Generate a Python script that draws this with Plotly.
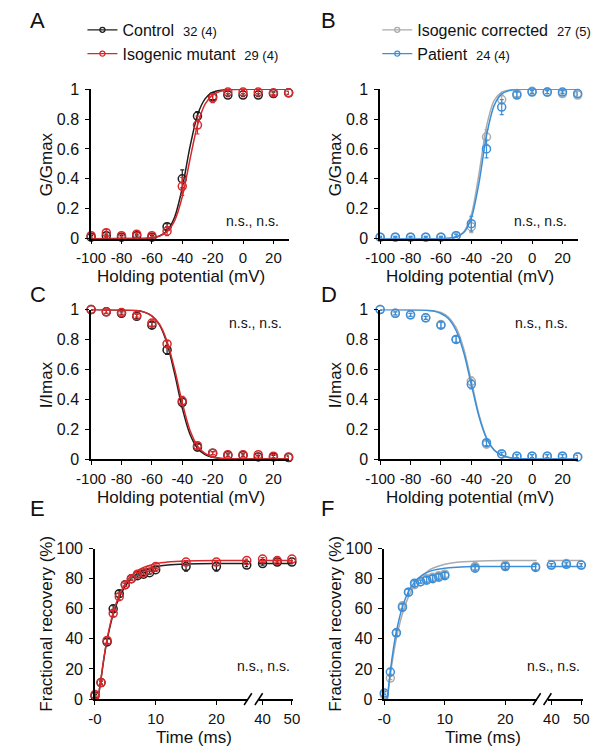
import plotly.graph_objects as go
import numpy as np

W, H = 602, 756
FONT = "Liberation Sans, Arial, Helvetica, sans-serif"

# ---------------- data ----------------
V = [-100, -90, -80, -70, -60, -50, -40, -30, -20, -10, 0, 10, 20, 30]
V_fit = [-100, -70, -65, -60, -55, -50, -45, -40, -35, -30, -25, -20, -15, -10, -5, 0, 30]
V_ticks = [-100, -80, -60, -40, -20, 0, 20]
V_ticklabels = ["-100", "-80", "-60", "-40", "-20", "0", "20"]

# Panel A: activation (G/Gmax)
A_ctrl = [0.01, 0.02, 0.01, 0.02, 0.01, 0.08, 0.40, 0.82, 0.95, 0.96, 0.96, 0.96, 0.97, 0.975]
A_ctrl_err = [0.01, 0.01, 0.01, 0.01, 0.01, 0.02, 0.06, 0.03, 0.02, 0.01, 0.01, 0.01, 0.01, 0.01]
A_mut = [0.02, 0.04, 0.02, 0.03, 0.02, 0.05, 0.35, 0.76, 0.94, 0.98, 0.98, 0.98, 0.975, 0.975]
A_mut_err = [0.01, 0.02, 0.01, 0.01, 0.01, 0.03, 0.06, 0.06, 0.03, 0.01, 0.01, 0.01, 0.01, 0.01]
A_ctrl_fit = [0, 0.0007, 0.002, 0.006, 0.018, 0.053, 0.145, 0.34, 0.61, 0.826, 0.935, 0.978, 0.993, 0.998, 0.999, 1, 1]
A_mut_fit = [0, 0.0008, 0.002, 0.006, 0.017, 0.047, 0.121, 0.28, 0.526, 0.759, 0.90, 0.962, 0.986, 0.995, 0.998, 1, 1]

# Panel B: activation (G/Gmax)
B_corr = [0.01, 0.01, 0.01, 0.01, 0.01, 0.02, 0.08, 0.68, 0.93, 0.97, 0.985, 0.98, 0.97, 0.96]
B_corr_err = [0.005, 0.005, 0.005, 0.005, 0.005, 0.01, 0.04, 0.05, 0.03, 0.02, 0.01, 0.01, 0.01, 0.01]
B_pat = [0.01, 0.01, 0.01, 0.01, 0.01, 0.02, 0.10, 0.60, 0.88, 0.96, 0.98, 0.98, 0.98, 0.97]
B_pat_err = [0.005, 0.005, 0.005, 0.005, 0.005, 0.01, 0.05, 0.06, 0.05, 0.02, 0.01, 0.01, 0.01, 0.01]
B_corr_fit = [0, 0, 0.0003, 0.0007, 0.003, 0.012, 0.045, 0.16, 0.43, 0.75, 0.924, 0.98, 0.995, 0.999, 1, 1, 1]
B_pat_fit = [0, 0, 0.0003, 0.0008, 0.003, 0.011, 0.041, 0.137, 0.37, 0.69, 0.89, 0.968, 0.991, 0.998, 0.999, 1, 1]

# Panel C: inactivation (I/Imax)
C_ctrl = [1.0, 0.985, 0.975, 0.955, 0.895, 0.73, 0.38, 0.08, 0.04, 0.025, 0.025, 0.015, 0.015, 0.01]
C_ctrl_err = [0.005, 0.01, 0.01, 0.015, 0.02, 0.03, 0.03, 0.02, 0.01, 0.01, 0.01, 0.01, 0.01, 0.01]
C_mut = [1.0, 0.985, 0.98, 0.96, 0.91, 0.77, 0.39, 0.09, 0.04, 0.03, 0.03, 0.03, 0.02, 0.015]
C_mut_err = [0.005, 0.01, 0.01, 0.01, 0.02, 0.02, 0.03, 0.02, 0.01, 0.01, 0.01, 0.01, 0.01, 0.01]
C_ctrl_fit = [1.0, 0.993, 0.983, 0.957, 0.898, 0.773, 0.570, 0.341, 0.168, 0.073, 0.030, 0.012, 0.005, 0.002, 0.001, 0, 0]
C_mut_fit = [1.0, 0.993, 0.983, 0.958, 0.902, 0.787, 0.599, 0.376, 0.195, 0.089, 0.038, 0.016, 0.006, 0.0025, 0.001, 0, 0]

# Panel D: inactivation (I/Imax)
D_corr = [1.0, 0.975, 0.965, 0.945, 0.90, 0.80, 0.52, 0.10, 0.035, 0.02, 0.02, 0.02, 0.02, 0.015]
D_corr_err = [0.005, 0.01, 0.01, 0.01, 0.02, 0.02, 0.03, 0.02, 0.01, 0.01, 0.01, 0.01, 0.01, 0.01]
D_pat = [1.0, 0.975, 0.965, 0.945, 0.895, 0.80, 0.50, 0.11, 0.035, 0.02, 0.02, 0.02, 0.02, 0.015]
D_pat_err = [0.005, 0.01, 0.01, 0.01, 0.02, 0.02, 0.03, 0.02, 0.01, 0.01, 0.01, 0.01, 0.01, 0.01]
D_corr_fit = [1.0, 0.997, 0.992, 0.980, 0.949, 0.879, 0.739, 0.523, 0.30, 0.143, 0.061, 0.025, 0.0097, 0.004, 0.0015, 0.0006, 0]
D_pat_fit = [1.0, 0.996, 0.990, 0.974, 0.939, 0.860, 0.713, 0.5, 0.287, 0.140, 0.061, 0.026, 0.011, 0.004, 0.0017, 0.0007, 0]

# Panels E/F: recovery from inactivation (%)
T = [0, 1, 2, 3, 4, 5, 6, 7, 8, 9, 10, 15, 20, 25, 40, 45, 50]
T_fit = [0.5, 1, 1.5, 2, 3, 4, 5, 6, 7, 8, 10, 12, 15, 20, 25.2]
T_fit_right = [38.7, 50.3]

E_ctrl = [2, 11, 38, 60, 70, 76, 80, 82, 83, 84, 86, 88, 88, 89, 90, 91, 91]
E_ctrl_err = [1, 1, 2, 2, 2, 1, 1, 1, 1, 1, 1, 3, 3, 1, 1, 1, 1]
E_mut = [3, 11, 39, 57, 68, 76, 80, 83, 84, 86, 88, 91, 91, 92, 93, 92, 93]
E_mut_err = [1, 1, 2, 2, 2, 1, 1, 1, 1, 1, 1, 1, 1, 1, 1, 1, 1]
E_ctrl_fit = [0, 13.5, 27.6, 39.2, 56.3, 67.5, 75, 80.1, 83.4, 85.6, 88, 89.1, 89.7, 90, 90]
E_ctrl_fit_right = [90, 90]
E_mut_fit = [0, 13.8, 28.2, 40, 57.5, 69, 76.7, 81.9, 85.3, 87.5, 90, 91.1, 91.7, 92, 92]
E_mut_fit_right = [92, 92]

F_corr = [3, 14, 44, 62, 71, 76, 78, 80, 81, 82, 83, 88, 89, 88, 89, 90, 89]
F_corr_err = [1, 1, 2, 2, 2, 2, 1, 2, 2, 2, 2, 2, 2, 2, 1, 1, 1]
F_pat = [4, 18, 44, 61, 71, 77, 78, 79, 80, 81, 82, 87, 88, 87.5, 89, 89.5, 89]
F_pat_err = [1, 2, 2, 2, 2, 2, 1, 2, 2, 2, 2, 2, 2, 2, 1, 1, 1]
F_corr_fit = [0, 16.1, 29.3, 40.3, 56.9, 68.1, 75.7, 80.9, 84.4, 86.9, 89.6, 90.9, 91.6, 92, 92]
F_corr_fit_right = [92, 92]
F_pat_fit = [0, 18.6, 33.4, 44.9, 61.3, 71.4, 77.7, 81.6, 84, 85.5, 87, 87.6, 88, 88, 88]
F_pat_fit_right = [88, 88]

legend_A = [("Control", "32 (4)"), ("Isogenic mutant", "29 (4)")]
legend_B = [("Isogenic corrected", "27 (5)"), ("Patient", "24 (4)")]

BLACK = "#1e1e1e"
RED = "#d8282c"
GRAY = "#ababab"
BLUE = "#3a8fdb"

# ---------------- helpers ----------------
def px(x):
    return x / W

def py(y):
    return 1 - y / H

fig = go.Figure()

def points(x, y, err, color, xa, ya):
    fig.add_trace(go.Scatter(
        x=x, y=y, mode="markers", xaxis=xa, yaxis=ya, showlegend=False,
        cliponaxis=False,
        marker=dict(symbol="circle-open", size=8, color=color, line=dict(width=1.5)),
        error_y=dict(type="data", array=err, color=color, thickness=1.2, width=2),
    ))

def fitline(x, y, color, xa, ya, width=1.5):
    fig.add_trace(go.Scatter(
        x=x, y=y, mode="lines", xaxis=xa, yaxis=ya, showlegend=False,
        cliponaxis=False, line=dict(color=color, width=width, shape="spline", smoothing=0.8),
    ))

def legend_entry(label, count, color, legend):
    fig.add_trace(go.Scatter(
        x=[None], y=[None], mode="lines+markers", legend=legend,
        name=f"{label}&nbsp;&nbsp;<span style='font-size:13px'>{count}</span>",
        line=dict(color=color, width=1.2),
        marker=dict(symbol="circle-open", size=5, color=color, line=dict(width=1.3)),
    ))

def split(t, v):
    t = np.array(t); v = np.array(v)
    l = t <= 30
    return (t[l].tolist(), v[l].tolist(), t[~l].tolist(), v[~l].tolist())

# ---------------- traces ----------------
fitline(V_fit, A_ctrl_fit, BLACK, "x", "y")
points(V, A_ctrl, A_ctrl_err, BLACK, "x", "y")
fitline(V_fit, A_mut_fit, RED, "x", "y")
points(V, A_mut, A_mut_err, RED, "x", "y")

fitline(V_fit, B_corr_fit, GRAY, "x2", "y2")
points(V, B_corr, B_corr_err, GRAY, "x2", "y2")
fitline(V_fit, B_pat_fit, BLUE, "x2", "y2")
points(V, B_pat, B_pat_err, BLUE, "x2", "y2")

fitline(V_fit, C_ctrl_fit, BLACK, "x3", "y3")
points(V, C_ctrl, C_ctrl_err, BLACK, "x3", "y3")
fitline(V_fit, C_mut_fit, RED, "x3", "y3")
points(V, C_mut, C_mut_err, RED, "x3", "y3")

fitline(V_fit, D_corr_fit, GRAY, "x4", "y4")
points(V, D_corr, D_corr_err, GRAY, "x4", "y4")
fitline(V_fit, D_pat_fit, BLUE, "x4", "y4")
points(V, D_pat, D_pat_err, BLUE, "x4", "y4")

for vals, errs, fit, fitr, col in [(E_ctrl, E_ctrl_err, E_ctrl_fit, E_ctrl_fit_right, BLACK),
                                   (E_mut, E_mut_err, E_mut_fit, E_mut_fit_right, RED)]:
    tl, vl, tr, vr = split(T, vals)
    _, el, _, er = split(T, errs)
    fitline(T_fit, fit, col, "x5", "y5")
    fitline(T_fit_right, fitr, col, "x6", "y5")
    points(tl, vl, el, col, "x5", "y5")
    points(tr, vr, er, col, "x6", "y5")

for vals, errs, fit, fitr, col in [(F_corr, F_corr_err, F_corr_fit, F_corr_fit_right, GRAY),
                                   (F_pat, F_pat_err, F_pat_fit, F_pat_fit_right, BLUE)]:
    tl, vl, tr, vr = split(T, vals)
    _, el, _, er = split(T, errs)
    fitline(T_fit, fit, col, "x7", "y6")
    fitline(T_fit_right, fitr, col, "x8", "y6")
    points(tl, vl, el, col, "x7", "y6")
    points(tr, vr, er, col, "x8", "y6")

legend_entry(*legend_A[0], BLACK, "legend")
legend_entry(*legend_A[1], RED, "legend")
legend_entry(*legend_B[0], GRAY, "legend2")
legend_entry(*legend_B[1], BLUE, "legend2")

# ---------------- axes ----------------
def axis(domain, rng, anchor, **kw):
    d = dict(domain=domain, range=rng, anchor=anchor, showline=True, linecolor="black",
             linewidth=1.6, ticks="outside", ticklen=4, tickwidth=1.2, tickcolor="black",
             showgrid=False, zeroline=False, tickangle=0, ticklabelstandoff=1,
             tickfont=dict(size=15, color="#111", family=FONT), fixedrange=True)
    d.update(kw)
    return d

vx = dict(tickvals=V_ticks, ticktext=V_ticklabels)
gy = dict(tickvals=[0, 0.2, 0.4, 0.6, 0.8, 1], ticktext=["0", "0.2", "0.4", "0.6", "0.8", "1"],
          tickfont=dict(size=16, color="#111", family=FONT), ticklabelstandoff=3)
ey = dict(tickvals=[0, 20, 40, 60, 80, 100],
          tickfont=dict(size=16, color="#111", family=FONT), ticklabelstandoff=3)

yA = [py(236), py(83)]
yC = [py(461.5), py(308.5)]
yE = [py(707), py(553)]

layout = dict(
    xaxis=axis([px(79), px(284)], [-100, 30], "y", **vx),
    yaxis=axis(yA, [0, 1], "x", **gy),
    xaxis2=axis([px(379), px(584)], [-100, 30], "y2", **vx),
    yaxis2=axis(yA, [0, 1], "x2", **gy),
    xaxis3=axis([px(79), px(284)], [-100, 30], "y3", **vx),
    yaxis3=axis(yC, [0, 1], "x3", **gy),
    xaxis4=axis([px(379), px(584)], [-100, 30], "y4", **vx),
    yaxis4=axis(yC, [0, 1], "x4", **gy),
    xaxis5=axis([px(83), px(241.8)], [0, 25.2], "y5", tickvals=[0, 10, 20], ticktext=["-0", "10", "20"]),
    xaxis6=axis([px(253), px(288.3)], [38.7, 50.3], "y5", tickvals=[40, 50]),
    yaxis5=axis(yE, [0, 100], "x5", **ey),
    xaxis7=axis([px(383.3), px(541.6)], [0, 25.2], "y6", tickvals=[0, 10, 20], ticktext=["-0", "10", "20"]),
    xaxis8=axis([px(552.7), px(589.3)], [38.7, 50.5], "y6", tickvals=[40, 50]),
    yaxis6=axis(yE, [0, 100], "x7", **ey),
)

annotations = []
def text(x, y, s, size, xanchor="center", yanchor="middle", angle=0):
    annotations.append(dict(x=px(x), y=py(y), xref="paper", yref="paper", text=s, showarrow=False,
                            xanchor=xanchor, yanchor=yanchor, textangle=angle,
                            font=dict(size=size, color="#111", family=FONT)))

for lx, ly, s in [(14, 13, "A"), (316, 13, "B"), (14, 293, "C"), (316, 293, "D"), (14, 512, "E"), (316, 512, "F")]:
    text(lx, ly, s, 22, xanchor="left")

for cx in (172, 472):
    text(cx, 275, "Holding potential (mV)", 17)
    text(cx, 501, "Holding potential (mV)", 17)
text(33, 160, "G/Gmax", 17, angle=-90)
text(333, 160, "G/Gmax", 17, angle=-90)
text(33, 385, "I/Imax", 17, angle=-90)
text(333, 385, "I/Imax", 17, angle=-90)
text(33, 630, "Fractional recovery (%)", 17, angle=-90)
text(333, 630, "Fractional recovery (%)", 17, angle=-90)
text(186, 746, "Time (ms)", 17)
text(486, 746, "Time (ms)", 17)

for x, y in [(276, 218), (575, 218), (279, 322), (576, 322), (288, 673), (588, 673)]:
    text(x, y, "n.s., n.s.", 14, xanchor="right")

# axis break marks
shapes = []
for xpix in (241.8, 253, 541.6, 552.7):
    shapes.append(dict(type="line", xref="paper", yref="paper",
                       x0=px(xpix - 4), x1=px(xpix + 4), y0=py(713), y1=py(701),
                       line=dict(color="black", width=1.5)))

fig.update_layout(
    **layout,
    annotations=annotations,
    shapes=shapes,
    width=W, height=H,
    margin=dict(l=0, r=0, t=0, b=0),
    paper_bgcolor="white", plot_bgcolor="white",
    font=dict(family=FONT, size=15, color="#111"),
    legend=dict(x=px(70), y=py(5), xanchor="left", yanchor="top", bgcolor="rgba(0,0,0,0)",
                font=dict(size=16, family=FONT, color="#111"), itemwidth=30, tracegroupgap=0,
                itemsizing="trace"),
    legend2=dict(x=px(376), y=py(5), xanchor="left", yanchor="top", bgcolor="rgba(0,0,0,0)",
                 font=dict(size=16, family=FONT, color="#111"), itemwidth=30, tracegroupgap=0,
                 itemsizing="trace"),
    showlegend=True,
)

fig.write_html("out.html")
